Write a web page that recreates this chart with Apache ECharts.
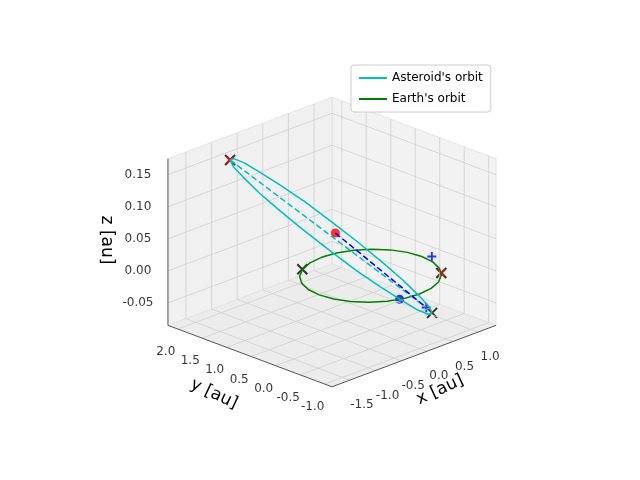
<!DOCTYPE html>
<html>
<head>
<meta charset="utf-8">
<script src="https://cdn.jsdelivr.net/npm/echarts@6/dist/echarts.min.js"></script>
<style>html,body{margin:0;padding:0;background:#fff}#chart{width:640px;height:480px}</style>
</head>
<body>
<div id="chart"></div>
<script>
// axis ranges [au]
const xRange = [-1.85, 1.35];
const yRange = [-1.15, 2.2];
const zRange = [-0.085, 0.175];
const xTicks = [-1.5, -1.0, -0.5, 0.0, 0.5, 1.0];
const yTicks = [-1.0, -0.5, 0.0, 0.5, 1.0, 1.5, 2.0];
const zTicks = [-0.05, 0.00, 0.05, 0.10, 0.15];

// orbit samples (x, y, z)
const earthOrbit = [
    [1.0, 0.0, 0], [0.966, 0.259, 0], [0.866, 0.5, 0], [0.707, 0.707, 0], [0.5, 0.866, 0], [0.259, 0.966, 0],
    [0.0, 1.0, 0], [-0.259, 0.966, 0], [-0.5, 0.866, 0], [-0.707, 0.707, 0], [-0.866, 0.5, 0], [-0.966, 0.259, 0],
    [-1.0, 0.0, 0], [-0.966, -0.259, 0], [-0.866, -0.5, 0], [-0.707, -0.707, 0], [-0.5, -0.866, 0], [-0.259, -0.966, 0],
    [0.0, -1.0, 0], [0.259, -0.966, 0], [0.5, -0.866, 0], [0.707, -0.707, 0], [0.866, -0.5, 0], [0.966, -0.259, 0], [1.0, 0.0, 0]
];
const asteroidOrbit = [
    [0.800, -0.420, -0.070], [0.826, -0.325, -0.063], [0.787, -0.162, -0.050], [0.688, 0.060, -0.029],
    [0.534, 0.323, -0.004], [0.335, 0.612, 0.025], [0.105, 0.905, 0.055], [-0.139, 1.184, 0.085],
    [-0.382, 1.429, 0.111], [-0.606, 1.622, 0.133], [-0.797, 1.752, 0.150], [-0.942, 1.809, 0.159],
    [-1.030, 1.790, 0.160], [-1.056, 1.695, 0.153], [-1.017, 1.532, 0.140], [-0.918, 1.310, 0.119],
    [-0.764, 1.047, 0.094], [-0.565, 0.758, 0.065], [-0.335, 0.465, 0.035], [-0.091, 0.186, 0.005],
    [0.152, -0.059, -0.021], [0.376, -0.252, -0.043], [0.567, -0.382, -0.060], [0.712, -0.439, -0.069],
    [0.800, -0.420, -0.070]
];
const apseLine = [[-1.03, 1.79, 0.16], [0.80, -0.30, -0.065]];
const blueDash = [[-0.15, 0.56, 0.055], [0.80, -0.30, -0.065]];
const redDots = [[-0.15, 0.56, 0.055]];
const blueDots = [[-0.33, -0.94, 0]];
const blackCross = [[-1.03, 1.79, 0.16], [0.80, -0.42, -0.07], [0.76, -0.65, 0], [-0.5, 0.87, 0]];
const redCross = [[-1.03, 1.79, 0.16], [0.76, -0.65, 0]];
const bluePlus = [[1.1, -0.1, 0.0], [0.80, -0.30, -0.065]];

// view
const elev = 22 * Math.PI / 180, azim = -135 * Math.PI / 180;
const box = [4, 4, 3.1], scale = 58, cx = 332, cy = 242;

function norm(v, r, len) { return (v - r[0]) / (r[1] - r[0]) * len - len / 2; }
function proj(p) {
    const X = norm(p[0], xRange, box[0]), Y = norm(p[1], yRange, box[1]), Z = norm(p[2], zRange, box[2]);
    const sx = -Math.sin(azim) * X + Math.cos(azim) * Y;
    const sy = -Math.sin(elev) * Math.cos(azim) * X - Math.sin(elev) * Math.sin(azim) * Y + Math.cos(elev) * Z;
    return [cx + scale * sx, cy - scale * sy];
}
const [x0, x1] = xRange, [y0, y1] = yRange, [z0, z1] = zRange;

// panes: floor, right wall (x max), left wall (y max)
const panes = [
    [[x0, y0, z0], [x1, y0, z0], [x1, y1, z0], [x0, y1, z0]],
    [[x1, y0, z0], [x1, y1, z0], [x1, y1, z1], [x1, y0, z1]],
    [[x0, y1, z0], [x1, y1, z0], [x1, y1, z1], [x0, y1, z1]]
].map(p => p.map(proj));
const paneFill = ['#ececec', '#f2f2f2', '#f0f0f0'];

// grid lines
const gridData = [];
function seg(a, b) { gridData.push(proj(a), proj(b), '-'); }
xTicks.forEach(x => { seg([x, y0, z0], [x, y1, z0]); seg([x, y1, z0], [x, y1, z1]); });
yTicks.forEach(y => { seg([x0, y, z0], [x1, y, z0]); seg([x1, y, z0], [x1, y, z1]); });
zTicks.forEach(z => { seg([x1, y0, z], [x1, y1, z]); seg([x0, y1, z], [x1, y1, z]); });

// axis lines
const axisData = [];
[[[x0, y0, z0], [x1, y0, z0]], [[x0, y0, z0], [x0, y1, z0]], [[x0, y1, z0], [x0, y1, z1]]].forEach(s => {
    axisData.push(proj(s[0]), proj(s[1]), '-');
});

// tick labels
const tickLabels = [];
xTicks.forEach(x => { const p = proj([x, y0, z0]); tickLabels.push({value: [p[0] + 12, p[1] + 25], name: x.toFixed(1)}); });
yTicks.forEach(y => { const p = proj([x0, y, z0]); tickLabels.push({value: [p[0] - 12, p[1] + 23], name: y.toFixed(1)}); });
zTicks.forEach(z => { const p = proj([x0, y1, z]); tickLabels.push({value: [p[0] - 30, p[1]], name: z.toFixed(2)}); });

const crossPath = 'path://M0,0L10,10M10,0L0,10';
const plusPath = 'path://M5,0L5,10M0,5L10,5';

function line(name, pts, color, type) {
    return {
        name: name, type: 'line', data: pts.map(proj),
        showSymbol: false, symbol: 'none', silent: true,
        lineStyle: {color: color, width: 1.5, type: type}, itemStyle: {color: color}
    };
}
function marks(pts, symbol, color, size, filled) {
    return {
        type: 'scatter', data: pts.map(proj), symbol: symbol, symbolSize: size, silent: true,
        itemStyle: filled ? {color: color} : {color: 'none', borderColor: color, borderWidth: 2}
    };
}

const option = {
    animation: false,
    grid: {left: 0, right: 0, top: 0, bottom: 0},
    xAxis: {type: 'value', min: 0, max: 640, show: false},
    yAxis: {type: 'value', min: 0, max: 480, inverse: true, show: false},
    legend: {
        data: [{name: "Asteroid's orbit", icon: 'rect'}, {name: "Earth's orbit", icon: 'rect'}],
        orient: 'vertical', left: 351, top: 65, itemGap: 9, itemWidth: 28, itemHeight: 2,
        backgroundColor: '#fff', borderColor: '#cccccc', borderWidth: 1, borderRadius: 3, padding: [7, 8],
        textStyle: {fontFamily: 'DejaVu Sans', fontSize: 12, color: '#000'}
    },
    series: [
        {
            type: 'custom', coordinateSystem: 'cartesian2d', silent: true,
            data: [[0, 0], [1, 0], [2, 0]],
            renderItem: (params, api) => {
                const i = api.value(0);
                return {type: 'polygon', shape: {points: panes[i].map(p => api.coord(p))},
                        style: {fill: paneFill[i], stroke: '#e0e0e0', lineWidth: 0.8}};
            }
        },
        {type: 'line', data: gridData, showSymbol: false, symbol: 'none', silent: true, connectNulls: false,
         lineStyle: {color: '#cfcfcf', width: 0.8}},
        {type: 'line', data: axisData, showSymbol: false, symbol: 'none', silent: true, connectNulls: false,
         lineStyle: {color: '#333', width: 0.8}},
        {type: 'scatter', data: tickLabels, symbolSize: 0, silent: true,
         label: {show: true, formatter: p => p.name, position: 'inside', fontFamily: 'DejaVu Sans', fontSize: 12, color: '#000'}},
        line("Earth's orbit", earthOrbit, '#008000', 'solid'),
        line("Asteroid's orbit", asteroidOrbit, '#00bfbf', 'solid'),
        line('apse', apseLine, '#00bfbf', 'dashed'),
        line('link', blueDash, '#0000ff', 'dashed'),
        marks(redDots, 'circle', '#ff0000', 9, true),
        marks(blueDots, 'circle', '#0000ff', 9, true),
        marks(blackCross, crossPath, '#000000', 10, false),
        marks(redCross, crossPath, '#ff0000', 7, false),
        marks(bluePlus, plusPath, '#0000ff', 9, false)
    ],
    graphic: [
        {type: 'text', x: 440, y: 390, rotation: 25 * Math.PI / 180, style: {text: 'x [au]', font: '17px DejaVu Sans', fill: '#000', align: 'center', verticalAlign: 'middle'}},
        {type: 'text', x: 214, y: 394, rotation: -25 * Math.PI / 180, style: {text: 'y [au]', font: '17px DejaVu Sans', fill: '#000', align: 'center', verticalAlign: 'middle'}},
        {type: 'text', x: 106, y: 240, rotation: -Math.PI / 2, style: {text: 'z [au]', font: '17px DejaVu Sans', fill: '#000', align: 'center', verticalAlign: 'middle'}}
    ]
};
const chart = echarts.init(document.getElementById('chart'));
chart.setOption(option);
</script>
</body>
</html>
